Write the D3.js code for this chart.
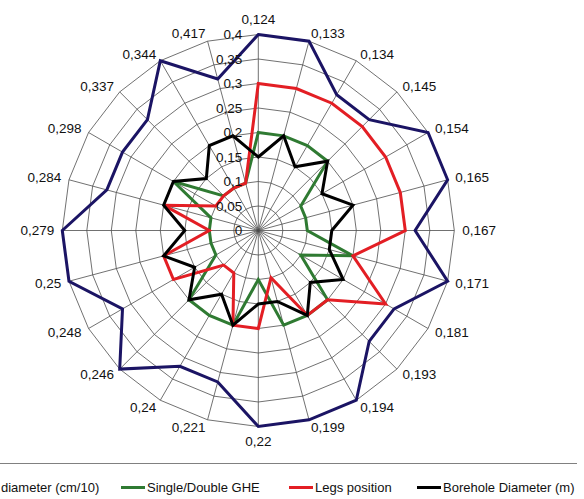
<!DOCTYPE html>
<html>
<head>
<meta charset="utf-8">
<script src="https://cdn.jsdelivr.net/npm/d3@7"></script>
<style>
  html, body { margin: 0; padding: 0; background: #fff; }
  svg { display: block; font-family: "Liberation Sans", Arial, sans-serif; }
</style>
</head>
<body>
<div id="chart"></div>
<script>
const SVG_WIDTH = 584;
const SVG_HEIGHT = 499;
const CENTER = { x: 258.3, y: 230.5 };
const RADIUS = 196;

// spoke labels, clockwise from the top
const categories = ["0,124", "0,133", "0,134", "0,145", "0,154", "0,165", "0,167", "0,171",
    "0,181", "0,193", "0,194", "0,199", "0,22", "0,221", "0,24", "0,246",
    "0,248", "0,25", "0,279", "0,284", "0,298", "0,337", "0,344", "0,417"];

const pipeDiameter = [0.4, 0.4, 0.32, 0.32, 0.4, 0.4, 0.32, 0.4, 0.32, 0.32, 0.4, 0.4,
    0.4, 0.32, 0.32, 0.4, 0.32, 0.4, 0.4, 0.32, 0.32, 0.32, 0.4, 0.32];
const singleDouble = [0.2, 0.2, 0.2, 0.2, 0.1, 0.1, 0.1, 0.2, 0.1, 0.2, 0.2, 0.2,
    0.1, 0.2, 0.2, 0.2, 0.1, 0.1, 0.1, 0.1, 0.2, 0.1, 0.1, 0.1];
const legsPosition = [0.3, 0.3, 0.3, 0.3, 0.3, 0.3, 0.3, 0.2, 0.3, 0.2, 0.2, 0.1,
    0.2, 0.2, 0.1, 0.1, 0.2, 0.2, 0.1, 0.2, 0.1, 0.1, 0.1, 0.1];
const boreholeDiameter = [0.15, 0.2, 0.15, 0.2, 0.15, 0.2, 0.15, 0.15, 0.2, 0.15, 0.2, 0.15,
    0.15, 0.2, 0.15, 0.2, 0.15, 0.2, 0.15, 0.2, 0.2, 0.15, 0.2, 0.2];

const tickValues = [0, 0.05, 0.1, 0.15, 0.2, 0.25, 0.3, 0.35, 0.4];
const tickLabels = ["0", "0,05", "0,1", "0,15", "0,2", "0,25", "0,3", "0,35", "0,4"];

const series = [
    { name: "diameter (cm/10)", values: pipeDiameter, color: "#1b1464" },
    { name: "Single/Double GHE", values: singleDouble, color: "#2f7a32" },
    { name: "Legs position", values: legsPosition, color: "#e31e24" },
    { name: "Borehole Diameter (m)", values: boreholeDiameter, color: "#000000" }
];
const legendX = [-26, 147, 315, 443];

const svg = d3.select("#chart").append("svg")
    .attr("width", SVG_WIDTH)
    .attr("height", SVG_HEIGHT);

const g = svg.append("g")
    .attr("transform", `translate(${CENTER.x},${CENTER.y})`);

const rScale = d3.scaleLinear().domain([0, 0.4]).range([0, RADIUS]);
const angleScale = d3.scaleLinear().domain([0, categories.length]).range([0, 2 * Math.PI]);

const radarLine = d3.lineRadial()
    .angle((d, i) => angleScale(i))
    .radius(d => rScale(d))
    .curve(d3.curveLinearClosed);

// rings
g.append("g").selectAll("path")
    .data(tickValues.slice(1))
    .join("path")
    .attr("d", v => radarLine(categories.map(() => v)))
    .attr("fill", "none")
    .attr("stroke", "#4d4d4d")
    .attr("stroke-width", 0.8);

// spokes
g.append("g").selectAll("line")
    .data(categories)
    .join("line")
    .attr("x1", 0).attr("y1", 0)
    .attr("x2", (d, i) => rScale(0.4) * Math.sin(angleScale(i)))
    .attr("y2", (d, i) => -rScale(0.4) * Math.cos(angleScale(i)))
    .attr("stroke", "#4d4d4d")
    .attr("stroke-width", 0.8);

// series
g.append("g").selectAll("path")
    .data(series)
    .join("path")
    .attr("d", s => radarLine(s.values))
    .attr("fill", "none")
    .attr("stroke", s => s.color)
    .attr("stroke-width", 3)
    .attr("stroke-linejoin", "miter");

// radial tick labels
g.append("g").selectAll("text")
    .data(tickValues)
    .join("text")
    .attr("x", -16)
    .attr("y", v => -rScale(v))
    .attr("dy", "0.35em")
    .attr("text-anchor", "end")
    .attr("font-size", "13.5px")
    .attr("fill", "#111")
    .text((v, i) => tickLabels[i]);

// category labels
const labelR = rScale(0.4) + 8;
g.append("g").selectAll("text")
    .data(categories)
    .join("text")
    .each(function(d, i) {
        const a = angleScale(i);
        const s = Math.sin(a), c = Math.cos(a);
        let x = labelR * s, y = -labelR * c;
        let anchor = "middle";
        if (s > 0.1) anchor = "start";
        else if (s < -0.1) anchor = "end";
        else y -= c * 7;
        d3.select(this)
            .attr("x", x)
            .attr("y", y)
            .attr("dy", "0.35em")
            .attr("text-anchor", anchor);
    })
    .attr("font-size", "13.5px")
    .attr("fill", "#111")
    .text(d => d);

// legend (cut off at the bottom/left like the source)
svg.append("line")
    .attr("x1", 0).attr("x2", 577)
    .attr("y1", 463.5).attr("y2", 463.5)
    .attr("stroke", "#808080")
    .attr("stroke-width", 1);

const legend = svg.append("g").attr("transform", "translate(0,487.5)");
series.forEach((s, i) => {
    legend.append("line")
        .attr("x1", legendX[i] - 26).attr("x2", legendX[i] - 2)
        .attr("y1", 0).attr("y2", 0)
        .attr("stroke", s.color)
        .attr("stroke-width", 3);
    legend.append("text")
        .attr("x", i === 0 ? 1 : legendX[i])
        .attr("y", 0)
        .attr("dy", "0.35em")
        .attr("font-size", "13px")
        .attr("fill", "#111")
        .text(s.name);
});
</script>
</body>
</html>
